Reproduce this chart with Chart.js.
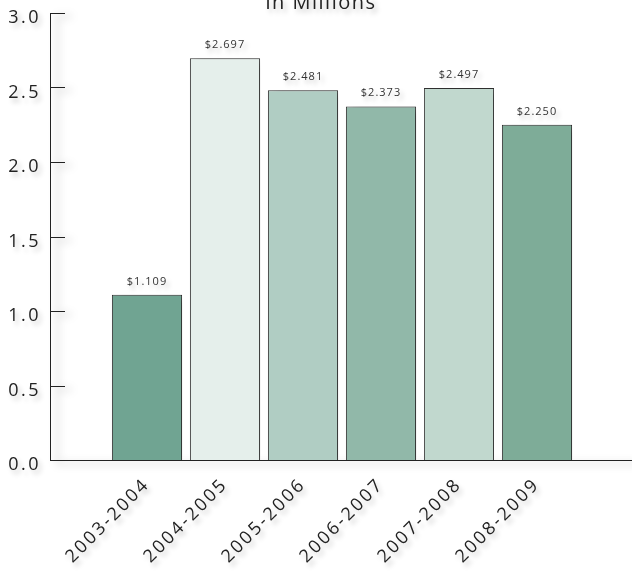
<!DOCTYPE html>
<html lang="en">
<head>
    <meta charset="UTF-8" />
    <title>In Millions</title>
    <script src="https://cdn.jsdelivr.net/npm/chart.js"></script>
    <style>
        body {
            margin: 0;
            background: #ffffff;
        }

        .chart-box {
            width: 632px;
            height: 573px;
        }
    </style>
</head>
<body>
    <div class="chart-box">
        <canvas id="millionsChart"></canvas>
    </div>

    <script>
        const years = ['2003-2004', '2004-2005', '2005-2006', '2006-2007', '2007-2008', '2008-2009'];
        const amounts = [1.109, 2.697, 2.481, 2.373, 2.497, 2.250];
        const amountLabels = ['$1.109', '$2.697', '$2.481', '$2.373', '$2.497', '$2.250'];
        const barColors = ['#70a492', '#e5efeb', '#b0cdc3', '#91b8a9', '#c1d8ce', '#7eac98'];

        const FONT = '"Open Sans", Lato, sans-serif';

        // soft drop shadow + wide tracking for everything
        const softShadow = {
            id: 'softShadow',
            beforeDraw(chart) {
                const ctx = chart.ctx;
                ctx.letterSpacing = '2.5px';
                ctx.shadowColor = 'rgba(0, 0, 0, 0.22)';
                ctx.shadowBlur = 5;
                ctx.shadowOffsetX = 3;
                ctx.shadowOffsetY = 4;
            }
        };

        // heavier shadow under the bars
        const barShadow = {
            id: 'barShadow',
            beforeDatasetsDraw(chart) {
                const ctx = chart.ctx;
                ctx.save();
                ctx.shadowColor = 'rgba(0, 0, 0, 0.4)';
                ctx.shadowBlur = 8;
                ctx.shadowOffsetX = 7;
                ctx.shadowOffsetY = 3;
            },
            afterDatasetsDraw(chart) {
                chart.ctx.restore();
            }
        };

        // axis lines, tick marks, title and value labels
        const decorations = {
            id: 'decorations',
            beforeDatasetsDraw(chart) {
                const ctx = chart.ctx;
                const y = chart.scales.y;
                const axisX = 50;
                const zero = y.getPixelForValue(0);
                ctx.save();
                ctx.strokeStyle = '#222';
                ctx.lineWidth = 1;
                ctx.beginPath();
                ctx.moveTo(axisX + 0.5, y.getPixelForValue(3));
                ctx.lineTo(axisX + 0.5, zero);
                ctx.moveTo(axisX, zero + 0.5);
                ctx.lineTo(chart.width, zero + 0.5);
                y.ticks.forEach(t => {
                    const py = Math.round(y.getPixelForValue(t.value)) + 0.5;
                    ctx.moveTo(axisX, py);
                    ctx.lineTo(axisX + 15, py);
                });
                ctx.stroke();
                ctx.restore();
            },
            afterDatasetsDraw(chart) {
                const ctx = chart.ctx;
                ctx.save();
                ctx.fillStyle = '#222';
                ctx.textAlign = 'center';
                ctx.textBaseline = 'alphabetic';
                ctx.letterSpacing = '1.5px';
                ctx.font = '20px ' + FONT;
                ctx.fillText('in Millions', 321, 9);

                ctx.letterSpacing = '1px';
                ctx.font = '11px ' + FONT;
                ctx.fillStyle = '#333';
                chart.getDatasetMeta(0).data.forEach((bar, i) => {
                    ctx.fillText(amountLabels[i], bar.x, bar.y - 10);
                });
                ctx.restore();
            }
        };

        new Chart(document.getElementById('millionsChart'), {
            type: 'bar',
            data: {
                labels: years,
                datasets: [{
                    data: amounts,
                    backgroundColor: barColors,
                    borderColor: '#333',
                    borderWidth: 1,
                    categoryPercentage: 1,
                    barPercentage: 0.9
                }]
            },
            options: {
                responsive: true,
                maintainAspectRatio: false,
                animation: false,
                layout: {
                    padding: { left: 0, right: 56, top: 13, bottom: 0 }
                },
                plugins: {
                    legend: { display: false },
                    tooltip: { enabled: false }
                },
                scales: {
                    x: {
                        grid: { display: false },
                        border: { display: false },
                        ticks: {
                            color: '#222',
                            font: { family: FONT, size: 18 },
                            minRotation: 45,
                            maxRotation: 45,
                            padding: 6
                        },
                        afterFit(scale) { scale.height = 113; }
                    },
                    y: {
                        min: 0,
                        max: 3,
                        grid: { display: false },
                        border: { display: false },
                        ticks: {
                            stepSize: 0.5,
                            color: '#222',
                            crossAlign: 'near',
                            padding: 59,
                            labelOffset: 5,
                            font: { family: FONT, size: 18 },
                            callback: v => v.toFixed(1)
                        },
                        afterFit(scale) {
                            scale.width = 108;
                            scale.paddingTop = 0;
                            scale.paddingBottom = 0;
                        }
                    }
                }
            },
            plugins: [softShadow, barShadow, decorations]
        });
    </script>
</body>
</html>
